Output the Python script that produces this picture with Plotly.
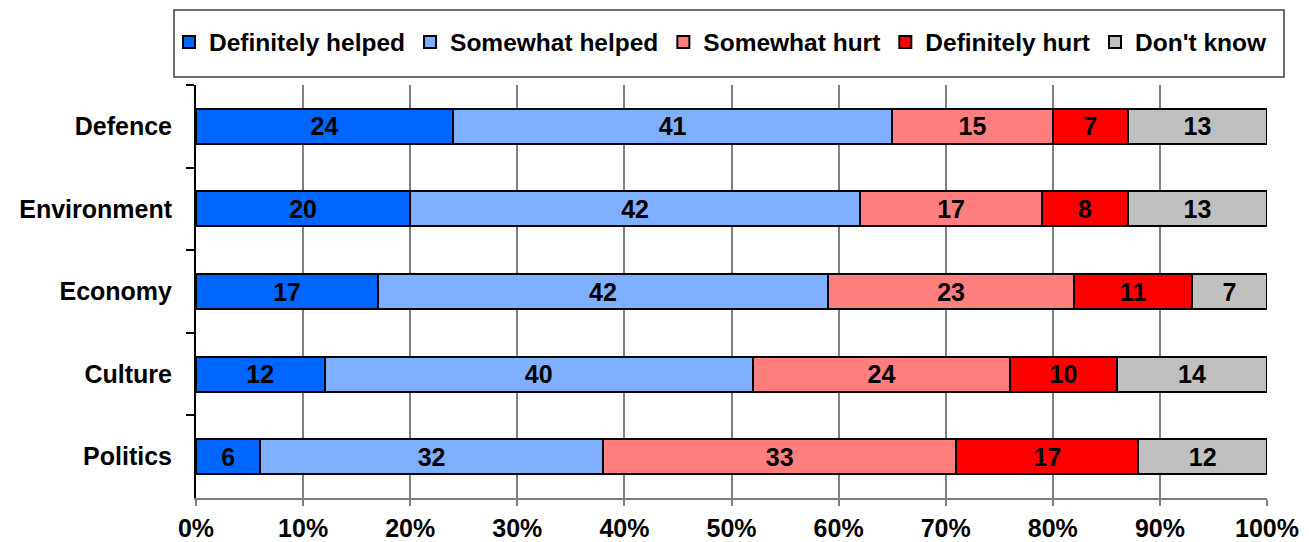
import plotly.graph_objects as go

# Survey results: share of respondents per answer, by policy area
areas = ["Defence", "Environment", "Economy", "Culture", "Politics"]
answers = ["Definitely helped", "Somewhat helped", "Somewhat hurt",
           "Definitely hurt", "Don't know"]
definitely_helped = [24, 20, 17, 12, 6]
somewhat_helped = [41, 42, 42, 40, 32]
somewhat_hurt = [15, 17, 23, 24, 33]
definitely_hurt = [7, 8, 11, 10, 17]
dont_know = [13, 13, 7, 14, 12]
x_ticks = [0, 10, 20, 30, 40, 50, 60, 70, 80, 90, 100]

series = [definitely_helped, somewhat_helped, somewhat_hurt,
          definitely_hurt, dont_know]
colors = ["#0066FF", "#7FAFFF", "#FF7F7F", "#FF0000", "#C0C0C0"]

FONT = "Liberation Sans, Arial, sans-serif"
SIZE = 25

fig = go.Figure()
for name, vals, col in zip(answers, series, colors):
    fig.add_trace(go.Bar(
        y=areas, x=vals, name=name, orientation="h",
        marker=dict(color=col, line=dict(color="black", width=2)),
        text=[str(v) for v in vals], textposition="inside",
        insidetextanchor="middle", textangle=0, constraintext="none",
        textfont=dict(family=FONT, size=SIZE, color="black", weight="bold"),
        hoverinfo="skip",
    ))

W, H = 1309, 542
L, R, T, B = 196, 42, 85, 44
pw, ph = W - L - R, H - T - B


def px_x(p):
    return (p - L) / pw


def px_y(p):
    return (H - B - p) / ph


fig.update_layout(
    width=W, height=H, barmode="stack", bargap=0.575,
    margin=dict(l=L, r=R, t=T, b=B, pad=0),
    plot_bgcolor="white", paper_bgcolor="white",
    font=dict(family=FONT, size=SIZE, color="black", weight="bold"),
    legend=dict(
        orientation="h", x=px_x(169), xanchor="left",
        y=px_y(42), yanchor="middle",
        font=dict(family=FONT, size=24.5, color="black", weight="bold"),
        traceorder="normal", itemwidth=30, bgcolor="rgba(0,0,0,0)",
    ),
    shapes=[dict(
        type="rect", xref="paper", yref="paper",
        x0=px_x(174), x1=px_x(1284), y0=px_y(77), y1=px_y(10),
        line=dict(color="#404040", width=1.5), fillcolor="rgba(0,0,0,0)",
    )],
)

fig.update_xaxes(
    range=[0, 100], tickvals=x_ticks, ticktext=[f"{v}%" for v in x_ticks],
    showgrid=True, gridcolor="#808080", gridwidth=1.5,
    showline=True, linecolor="#808080", linewidth=2,
    ticks="outside", ticklen=6, tickcolor="#808080", tickwidth=1.5,
    ticklabelstandoff=1, zeroline=False, fixedrange=True, automargin=False,
)
fig.update_yaxes(
    categoryorder="array", categoryarray=areas, autorange="reversed",
    showgrid=False, showline=True, linecolor="black", linewidth=2,
    ticks="outside", tickson="boundaries", ticklen=8, tickcolor="black",
    tickwidth=1.5, ticklabelstandoff=17, zeroline=False, fixedrange=True,
    automargin=False,
)

fig.write_html("out.html")
